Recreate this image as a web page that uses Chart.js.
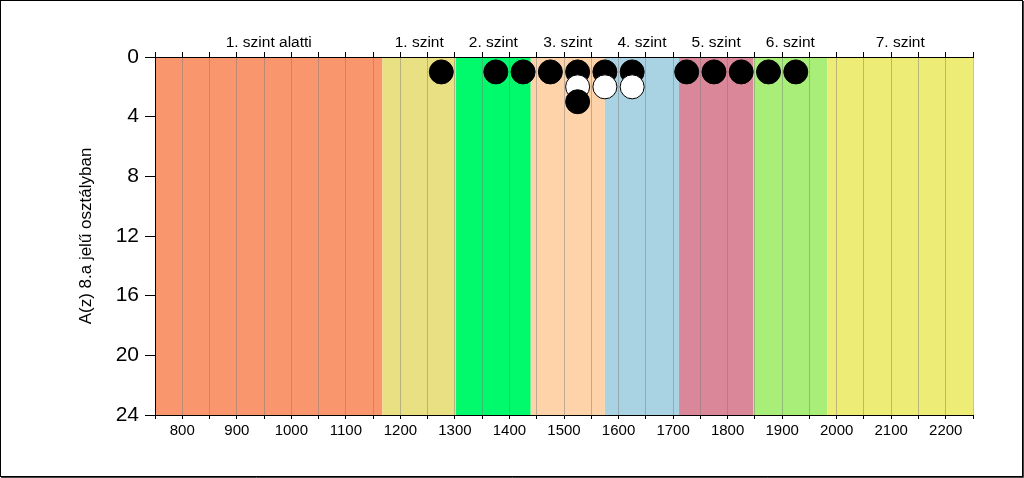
<!DOCTYPE html>
<html>
<head>
<meta charset="utf-8">
<script src="https://cdn.jsdelivr.net/npm/chart.js@4"></script>
<style>
  body { margin: 0; background: #fff; }
</style>
</head>
<body>
<canvas id="dotChart" width="1024" height="478"></canvas>
<script>
// score levels (bands on the x axis)
const bandNames = ['1. szint alatti', '1. szint', '2. szint', '3. szint', '4. szint', '5. szint', '6. szint', '7. szint'];
const bandEdges = [750, 1167, 1302, 1439, 1575, 1711, 1847, 1983, 2250];
const bandColors = ['#FA966D', '#E9E083', '#00FA6C', '#FED3AA', '#A9D3E2', '#D98799', '#A8EE78', '#EDEC77'];

// students stacked by score: row 1, row 2, row 3
const row1Scores = [1275, 1375, 1425, 1475, 1525, 1575, 1625, 1725, 1775, 1825, 1875, 1925];
const row2Scores = [1525, 1575, 1625];
const row3Scores = [1525];

const xTicks = { min: 750, max: 2250, step: 50 };
const yTicks = { min: 0, max: 24, step: 4 };

const points = [
    ...row1Scores.map(v => ({ x: v, y: 1 })),
    ...row2Scores.map(v => ({ x: v, y: 2 })),
    ...row3Scores.map(v => ({ x: v, y: 3 })),
];

const FONT = '"Liberation Sans", Arial, sans-serif';

const bandPlugin = {
    id: 'bands',
    beforeDraw(chart) {
        const { ctx, chartArea, scales } = chart;
        const x = scales.x;
        ctx.save();
        ctx.fillStyle = '#fff';
        ctx.fillRect(0, 0, chart.width, chart.height);
        bandNames.forEach((name, i) => {
            const x0 = x.getPixelForValue(bandEdges[i]);
            const x1 = x.getPixelForValue(bandEdges[i + 1]);
            ctx.fillStyle = bandColors[i];
            ctx.fillRect(x0, chartArea.top, x1 - x0, chartArea.bottom - chartArea.top);
            ctx.fillStyle = '#000';
            ctx.font = '15.5px ' + FONT;
            ctx.textAlign = 'center';
            ctx.textBaseline = 'middle';
            ctx.fillText(name, (x0 + x1) / 2, chartArea.top - 14);
        });
        ctx.restore();
    },
    afterDraw(chart) {
        const ctx = chart.ctx;
        ctx.save();
        ctx.strokeStyle = '#000';
        ctx.lineWidth = 1;
        ctx.strokeRect(0.5, 0.5, chart.width - 2, chart.height - 2);
        ctx.strokeStyle = '#444';
        ctx.beginPath();
        ctx.moveTo(chart.width - 0.5, 1);
        ctx.lineTo(chart.width - 0.5, chart.height - 0.5);
        ctx.lineTo(1, chart.height - 0.5);
        ctx.stroke();
        ctx.restore();
    }
};

const ctx = document.getElementById('dotChart').getContext('2d');
new Chart(ctx, {
    type: 'scatter',
    data: {
        datasets: [{
            data: points,
            pointRadius: 12,
            pointHoverRadius: 12,
            borderWidth: 1,
            borderColor: '#000',
            backgroundColor: c => (c.raw && c.raw.y % 2 === 0) ? '#fff' : '#000',
        }],
    },
    options: {
        responsive: false,
        animation: false,
        layout: { padding: { left: 72, right: 51, top: 0, bottom: 0 } },
        plugins: {
            legend: { display: false },
            tooltip: { enabled: false },
        },
        scales: {
            x: {
                type: 'linear',
                position: 'bottom',
                min: xTicks.min,
                max: xTicks.max,
                afterFit: s => { s.height = 63; },
                ticks: {
                    stepSize: xTicks.step,
                    autoSkip: false,
                    maxRotation: 0,
                    padding: 3,
                    color: '#000',
                    font: { family: FONT, size: 15 },
                    callback: v => (v % 100 === 0 ? String(v) : ''),
                },
                grid: {
                    color: 'rgba(120,120,120,0.45)',
                    tickColor: '#000',
                    tickLength: 4,
                },
                border: { color: '#000' },
            },
            x2: {
                type: 'linear',
                position: 'top',
                min: xTicks.min,
                max: xTicks.max,
                afterFit: s => { s.height = 57; },
                ticks: {
                    stepSize: xTicks.step,
                    autoSkip: false,
                    callback: () => '',
                },
                grid: {
                    drawOnChartArea: false,
                    tickColor: '#000',
                    tickLength: 5,
                },
                border: { color: '#000' },
            },
            y: {
                type: 'linear',
                reverse: true,
                min: yTicks.min,
                max: yTicks.max,
                afterFit: s => { s.width = 83; },
                title: {
                    display: true,
                    text: 'A(z) 8.a jelű osztályban',
                    color: '#000',
                    font: { family: FONT, size: 17 },
                },
                ticks: {
                    stepSize: yTicks.step,
                    padding: 6,
                    color: '#000',
                    font: { family: FONT, size: 21 },
                },
                grid: {
                    drawOnChartArea: false,
                    tickColor: '#000',
                    tickLength: 10,
                },
                border: { color: '#000' },
            },
        },
    },
    plugins: [bandPlugin],
});
</script>
</body>
</html>
